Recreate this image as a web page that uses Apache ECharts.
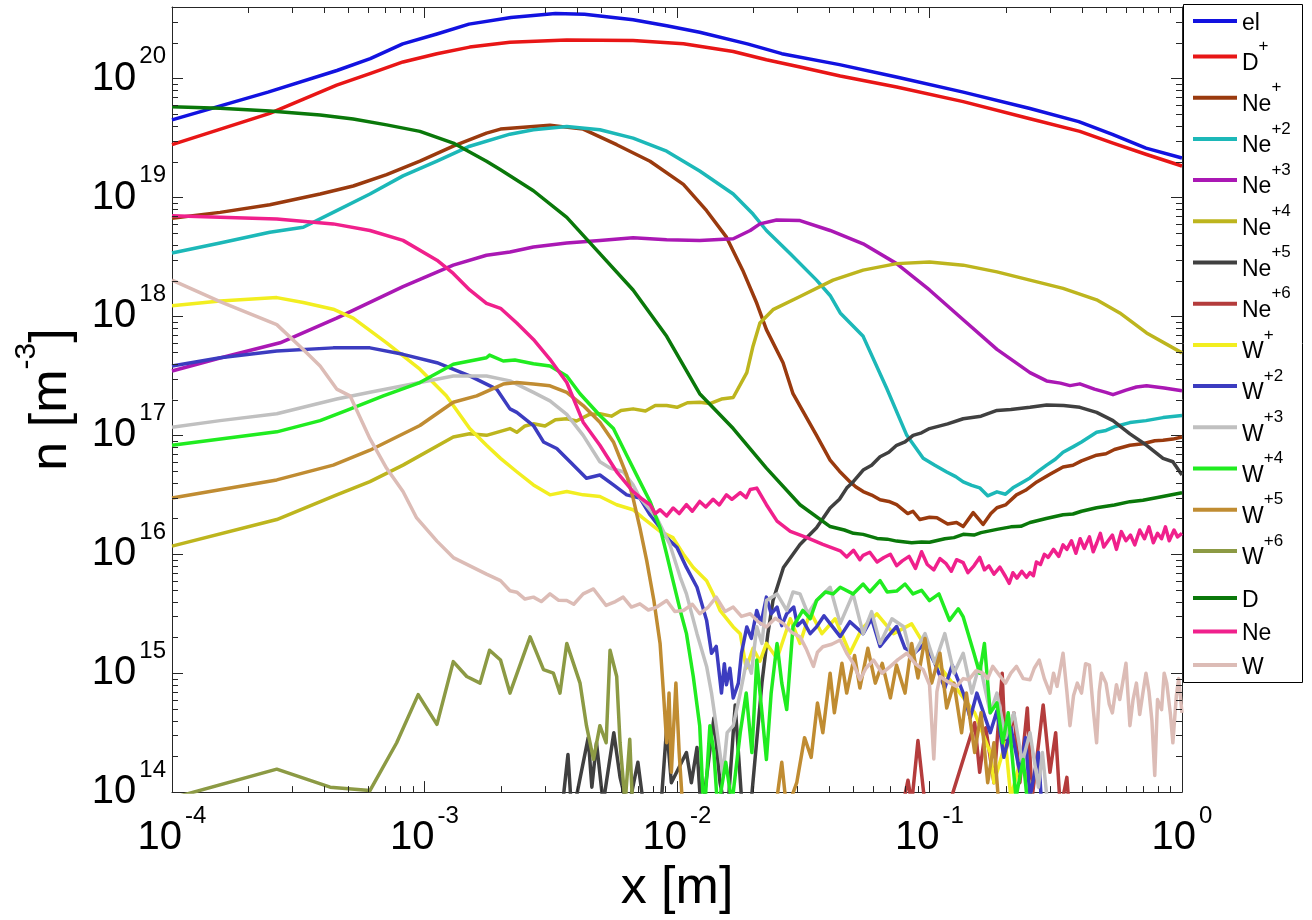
<!DOCTYPE html>
<html>
<head>
<meta charset="utf-8">
<script src="https://cdn.jsdelivr.net/npm/echarts@6/dist/echarts.min.js"></script>
<style>
html,body{margin:0;padding:0;background:#fff;}
#chart{width:1312px;height:920px;}
</style>
</head>
<body>
<div id="chart"></div>
<script>
// ---------------- data (x [m], n [m^-3]) ----------------
const seriesNames = ['el','D+','Ne+','Ne+2','Ne+3','Ne+4','Ne+5','Ne+6','W+','W+2','W+3','W+4','W+5','W+6','D','Ne','W'];
const seriesColors = ['#1212e0','#e81616','#9a3a0e','#1cb8b8','#aa18b4','#bdb51e','#404040','#b43c3c','#f2ee20','#3c3cc0','#c0c0c0','#20ec20','#c08c32','#8c9a44','#0a780a','#f0208c','#dcbcb6'];
const xTickExponents = [-4,-3,-2,-1,0];
const yTickExponents = [14,15,16,17,18,19,20];

const el = [[1e-4,4.5e19],[2.4e-4,7.7e19],[4.5e-4,1.17e20],[6.1e-4,1.47e20],[8.2e-4,1.96e20],[1.12e-3,2.37e20],[1.5e-3,2.87e20],[2.2e-3,3.27e20],[3.3e-3,3.53e20],[4.3e-3,3.48e20],[6.7e-3,3.12e20],[9.1e-3,2.78e20],[1.23e-2,2.45e20],[1.9e-2,1.96e20],[2.6e-2,1.62e20],[4.4e-2,1.31e20],[7.4e-2,1.03e20],[0.136,7.7e19],[0.25,5.6e19],[0.39,4.35e19],[0.53,3.4e19],[0.72,2.6e19],[1.0,2.15e19]];

const dPlus = [[1e-4,2.78e19],[2.44e-4,5.1e19],[4.49e-4,8.8e19],[6.08e-4,1.1e20],[8.22e-4,1.38e20],[1.12e-3,1.62e20],[1.51e-3,1.84e20],[2.18e-3,2.02e20],[3.66e-3,2.11e20],[6.7e-3,2.09e20],[1.06e-2,1.96e20],[1.67e-2,1.69e20],[2.26e-2,1.44e20],[3.07e-2,1.25e20],[4.43e-2,1.05e20],[7.41e-2,8.5e19],[0.136,6.4e19],[0.25,4.6e19],[0.394,3.6e19],[0.533,2.87e19],[0.724,2.3e19],[1.0,1.84e19]];

const nePlus = [[1e-4,6.68e18],[1.55e-4,7.5e18],[2.44e-4,8.69e18],[3.86e-4,1.07e19],[5.22e-4,1.25e19],[7.08e-4,1.56e19],[9.59e-4,2.02e19],[1.3e-3,2.7e19],[1.76e-3,3.48e19],[2.0e-3,3.76e19],[2.7e-3,3.96e19],[3.14e-3,4.06e19],[4.25e-3,3.76e19],[5.77e-3,2.78e19],[7.82e-3,2.02e19],[1.06e-2,1.29e19],[1.31e-2,7.75e18],[1.57e-2,4.64e18],[1.82e-2,2.45e18],[2.07e-2,1.29e18],[2.26e-2,7.75e17],[2.63e-2,4.08e17],[2.88e-2,2.24e17],[3.57e-2,1.0e17],[4.04e-2,6.19e16],[4.4e-2,5.0e16],[4.84e-2,4.08e16],[5.1e-2,3.7e16],[5.46e-2,3.37e16],[5.9e-2,3.15e16],[6.37e-2,2.87e16],[6.9e-2,2.78e16],[7.41e-2,2.61e16],[8.2e-2,2.2e16],[8.6e-2,2.3e16],[9.16e-2,1.96e16],[0.1,2.05e16],[0.107,2.03e16],[0.118,1.8e16],[0.128,1.85e16],[0.136,1.71e16],[0.149,2.24e16],[0.163,1.78e16],[0.175,2.2e16],[0.185,2.46e16],[0.2,2.6e16],[0.221,3.16e16],[0.24,3.45e16],[0.266,4.06e16],[0.3,4.7e16],[0.338,5.41e16],[0.37,5.6e16],[0.4,6.1e16],[0.459,6.81e16],[0.5,7.0e16],[0.54,7.6e16],[0.622,8.25e16],[0.7,8.5e16],[0.78,9.0e16],[0.841,9.1e16],[0.92,9.3e16],[1.0,9.68e16]];

const ne2 = [[1e-4,3.41e18],[1.55e-4,4.14e18],[2.44e-4,5.11e18],[3.31e-4,5.62e18],[4.35e-4,7.5e18],[6.08e-4,1.07e19],[8.22e-4,1.52e19],[1.12e-3,2.02e19],[1.51e-3,2.7e19],[2.18e-3,3.41e19],[2.7e-3,3.71e19],[3.66e-3,3.96e19],[4.95e-3,3.71e19],[6.7e-3,3.16e19],[9.1e-3,2.45e19],[1.23e-2,1.67e19],[1.67e-2,1.07e19],[2.0e-2,7.26e18],[2.26e-2,5.28e18],[2.81e-2,3.37e18],[3.57e-2,2.02e18],[4.04e-2,1.5e18],[4.43e-2,1.07e18],[5.46e-2,6.8e17],[6.76e-2,2.5e17],[8.13e-2,1.0e17],[9.44e-2,6.43e16],[0.105,5.6e16],[0.117,4.92e16],[0.127,4.5e16],[0.136,4.06e16],[0.147,3.8e16],[0.158,3.62e16],[0.17,3.1e16],[0.185,3.35e16],[0.2,3.2e16],[0.214,3.62e16],[0.232,4.0e16],[0.25,4.38e16],[0.27,5.0e16],[0.291,5.62e16],[0.315,6.3e16],[0.338,7.21e16],[0.37,8.0e16],[0.4,8.8e16],[0.459,1.06e17],[0.5,1.1e17],[0.54,1.18e17],[0.622,1.28e17],[0.72,1.33e17],[0.841,1.41e17],[1.0,1.47e17]];

const ne3 = [[1e-4,3.48e17],[1.55e-4,4.47e17],[2.68e-4,6.0e17],[4.49e-4,9.68e17],[8.22e-4,1.78e18],[1.3e-3,2.7e18],[1.76e-3,3.27e18],[2.18e-3,3.48e18],[2.7e-3,3.83e18],[3.66e-3,4.14e18],[4.95e-3,4.36e18],[6.7e-3,4.58e18],[9.1e-3,4.42e18],[1.23e-2,4.36e18],[1.67e-2,4.5e18],[1.95e-2,5.28e18],[2.13e-2,6.0e18],[2.48e-2,6.47e18],[3.07e-2,6.4e18],[4.04e-2,5.28e18],[5.46e-2,4.08e18],[7.41e-2,2.78e18],[0.1,1.67e18],[0.136,9.38e17],[0.185,5.28e17],[0.25,3.37e17],[0.291,2.87e17],[0.33,2.75e17],[0.36,2.62e17],[0.394,2.71e17],[0.45,2.45e17],[0.5,2.3e17],[0.533,2.2e17],[0.6,2.4e17],[0.66,2.55e17],[0.724,2.61e17],[0.85,2.5e17],[1.0,2.37e17]];

const ne4 = [[1e-4,1.17e16],[2.6e-4,1.96e16],[4.49e-4,3.16e16],[6.08e-4,4.08e16],[8.22e-4,5.62e16],[1.3e-3,9.68e16],[1.51e-3,1.03e17],[1.76e-3,1.0e17],[2.18e-3,1.14e17],[2.32e-3,1.06e17],[2.5e-3,1.2e17],[2.7e-3,1.25e17],[3.0e-3,1.2e17],[3.3e-3,1.35e17],[3.66e-3,1.38e17],[4.0e-3,1.32e17],[4.5e-3,1.5e17],[4.95e-3,1.52e17],[5.5e-3,1.45e17],[6.0e-3,1.62e17],[6.7e-3,1.67e17],[7.5e-3,1.6e17],[8.2e-3,1.78e17],[9.1e-3,1.78e17],[1.0e-2,1.72e17],[1.1e-2,1.88e17],[1.23e-2,1.9e17],[1.35e-2,1.85e17],[1.5e-2,2.02e17],[1.67e-2,2.08e17],[1.89e-2,3.37e17],[2.0e-2,5.62e17],[2.13e-2,8.8e17],[2.4e-2,1.14e18],[3.07e-2,1.47e18],[4.15e-2,2.02e18],[5.46e-2,2.45e18],[7.41e-2,2.78e18],[0.1,2.87e18],[0.136,2.7e18],[0.185,2.37e18],[0.25,2.02e18],[0.338,1.72e18],[0.459,1.38e18],[0.567,1.07e18],[0.724,7.26e17],[1.0,4.94e17]];

const ne5 = [[3.44e-3,5e13],[3.7e-3,2.07e14],[3.84e-3,6e13],[4.45e-3,2.87e14],[4.6e-3,1.1e14],[4.8e-3,2.6e14],[5.1e-3,8e13],[5.62e-3,3.16e14],[5.95e-3,1.33e14],[6.4e-3,7e13],[7.0e-3,1.78e14],[7.3e-3,9e13],[8.57e-3,6e13],[9.1e-3,3.48e14],[9.5e-3,1.2e14],[1.09e-2,2.15e14],[1.14e-2,1.2e14],[1.2e-2,2.37e14],[1.25e-2,6e13],[1.4e-2,4.2e14],[1.48e-2,1.2e14],[1.58e-2,6e13],[1.7e-2,5.4e14],[1.8e-2,9e13],[1.94e-2,6e13],[2.17e-2,8.3e14],[2.29e-2,2.15e15],[2.4e-2,4.08e15],[2.64e-2,7.75e15],[3.07e-2,1.21e16],[3.57e-2,1.67e16],[4.04e-2,2.45e16],[4.4e-2,2.9e16],[4.7e-2,3.6e16],[5.0e-2,4.1e16],[5.46e-2,5.11e16],[5.9e-2,5.6e16],[6.37e-2,6.6e16],[6.9e-2,7.2e16],[7.41e-2,8.25e16],[8.0e-2,8.8e16],[8.61e-2,1.0e17],[0.093,1.05e17],[0.1,1.14e17],[0.118,1.25e17],[0.136,1.38e17],[0.16,1.45e17],[0.185,1.62e17],[0.21,1.65e17],[0.25,1.72e17],[0.291,1.8e17],[0.34,1.78e17],[0.394,1.72e17],[0.459,1.56e17],[0.533,1.33e17],[0.622,1.03e17],[0.724,8.25e16],[0.841,6.4e16],[0.92,6.0e16],[1.0,4.64e16]];

const ne6 = [[7.64e-2,6e13],[8.22e-2,1.26e14],[8.5e-2,8e13],[9.0e-2,2.71e14],[9.5e-2,9.5e13],[0.102,7e13],[0.115,6e13],[0.151,3.83e14],[0.158,1.47e14],[0.167,3.48e14],[0.18,1.2e14],[0.194,1.0e15],[0.2,2.15e14],[0.216,4.64e14],[0.228,1.2e14],[0.244,5.1e14],[0.255,9e13],[0.282,5.4e14],[0.3,1.47e14],[0.316,3.16e14],[0.33,7e13],[0.35,1.33e14],[0.36,6e13]];

const wPlus = [[1e-4,1.23e18],[1.55e-4,1.35e18],[2.6e-4,1.44e18],[3.31e-4,1.31e18],[4.35e-4,1.15e18],[5.22e-4,9.68e17],[7.08e-4,6.0e17],[9.59e-4,3.6e17],[1.22e-3,2.15e17],[1.51e-3,1.14e17],[1.76e-3,8.25e16],[2.0e-3,6.4e16],[2.32e-3,4.94e16],[2.7e-3,3.83e16],[3.14e-3,3.16e16],[3.66e-3,3.37e16],[4.25e-3,3.16e16],[4.95e-3,3.06e16],[5.77e-3,2.61e16],[6.7e-3,2.37e16],[7.32e-3,2.02e16],[8.57e-3,1.56e16],[9.64e-3,1.38e16],[1.06e-2,1.0e16],[1.16e-2,7.75e15],[1.31e-2,6.0e15],[1.39e-2,4.64e15],[1.48e-2,3.37e15],[1.67e-2,2.45e15],[1.78e-2,2.15e15],[1.88e-2,1.1e15],[2.0e-2,1.62e15],[2.13e-2,1.26e15],[2.26e-2,1.78e15],[2.49e-2,1.33e15],[2.81e-2,2.87e15],[3.07e-2,1.78e15],[3.37e-2,3.29e15],[3.75e-2,2.15e15],[4.23e-2,2.87e15],[4.84e-2,1.47e15],[5.4e-2,2.37e15],[6.19e-2,3.16e15],[7.2e-2,2.15e15],[8.5e-2,2.6e15],[0.1,1.47e15],[0.115,1.0e15],[0.132,6.8e14],[0.151,4.64e14],[0.174,2.15e14],[0.18,1.2e14],[0.2,2.6e14],[0.21,9e13],[0.228,1.78e14],[0.25,1.2e14],[0.26,5e13]];

const w2 = [[1e-4,3.83e17],[1.55e-4,4.49e17],[2.6e-4,5.11e17],[4.35e-4,5.44e17],[6.08e-4,5.44e17],[8.22e-4,4.8e17],[1.12e-3,4.08e17],[1.51e-3,3.16e17],[1.93e-3,2.45e17],[2.18e-3,1.67e17],[2.32e-3,1.56e17],[2.7e-3,1.21e17],[2.96e-3,8.8e16],[3.34e-3,7.75e16],[3.77e-3,6.0e16],[4.38e-3,4.36e16],[4.95e-3,4.64e16],[5.6e-3,3.83e16],[6.32e-3,3.16e16],[7.13e-3,2.97e16],[7.82e-3,2.15e16],[8.57e-3,1.67e16],[9.1e-3,1.38e16],[1.0e-2,1.14e16],[1.09e-2,7.75e15],[1.2e-2,5.28e15],[1.31e-2,2.78e15],[1.37e-2,1.47e15],[1.43e-2,1.68e15],[1.5e-2,6.8e14],[1.54e-2,1.2e15],[1.57e-2,8.0e14],[1.62e-2,1.1e15],[1.67e-2,6.19e14],[1.75e-2,8.25e14],[1.8e-2,1.47e15],[1.89e-2,2.45e15],[1.97e-2,1.96e15],[2.07e-2,3.37e15],[2.15e-2,2.61e15],[2.26e-2,4.36e15],[2.36e-2,3.16e15],[2.49e-2,3.6e15],[2.6e-2,2.51e15],[2.72e-2,3.16e15],[2.9e-2,3.6e15],[3.0e-2,2.51e15],[3.15e-2,2.78e15],[3.37e-2,2.15e15],[3.57e-2,2.45e15],[3.82e-2,3.04e15],[4.04e-2,2.61e15],[4.43e-2,2.03e15],[4.84e-2,2.71e15],[5.46e-2,2.15e15],[5.9e-2,2.87e15],[6.37e-2,1.68e15],[7.0e-2,2.15e15],[7.41e-2,2.47e15],[8.0e-2,1.62e15],[8.7e-2,1.47e15],[9.6e-2,1.78e15],[0.105,1.21e15],[0.115,7.5e14],[0.123,1.17e15],[0.136,6.8e14],[0.145,4.2e14],[0.154,6.8e14],[0.174,3.16e14],[0.185,4.82e14],[0.197,1.96e14],[0.21,3.48e14],[0.228,1.47e14],[0.24,2.87e14],[0.25,9e13],[0.27,2.15e14],[0.28,6e13]];

const w3 = [[1e-4,1.17e17],[1.55e-4,1.33e17],[2.6e-4,1.52e17],[4.49e-4,2.02e17],[6.08e-4,2.3e17],[9.59e-4,2.78e17],[1.3e-3,3.16e17],[1.76e-3,3.16e17],[2.18e-3,2.87e17],[2.7e-3,2.3e17],[3.14e-3,1.95e17],[3.66e-3,1.5e17],[4.25e-3,1.0e17],[4.95e-3,6.0e16],[5.43e-3,5.31e16],[6.12e-3,4.94e16],[6.7e-3,3.83e16],[7.13e-3,2.99e16],[8.32e-3,2.02e16],[9.37e-3,1.21e16],[1.03e-2,6.4e15],[1.09e-2,4.64e15],[1.2e-2,2.15e15],[1.31e-2,1.14e15],[1.37e-2,6.8e14],[1.43e-2,3.62e14],[1.52e-2,1.39e14],[1.58e-2,3.16e14],[1.67e-2,3.62e14],[1.78e-2,6.8e14],[1.89e-2,1.29e15],[1.97e-2,1.0e15],[2.07e-2,2.46e15],[2.17e-2,1.78e15],[2.26e-2,4.08e15],[2.49e-2,4.64e15],[2.72e-2,3.37e15],[2.88e-2,4.82e15],[3.07e-2,4.64e15],[3.3e-2,3.16e15],[3.57e-2,4.08e15],[4.04e-2,5.28e15],[4.43e-2,2.61e15],[4.98e-2,4.64e15],[5.46e-2,2.15e15],[5.9e-2,3.29e15],[6.37e-2,1.78e15],[7.1e-2,2.87e15],[7.9e-2,2.46e15],[8.5e-2,1.33e15],[9.6e-2,2.15e15],[0.105,1.21e15],[0.115,2.15e15],[0.125,1.0e15],[0.136,1.47e15],[0.147,6.8e14],[0.158,1.21e15],[0.174,4.64e14],[0.185,6.8e14],[0.2,2.87e14],[0.216,4.64e14],[0.233,1.78e14],[0.25,3.16e14],[0.27,1.1e14],[0.28,2.15e14],[0.3,5e13]];

const w4 = [[1e-4,8.25e16],[2.6e-4,1.07e17],[3.86e-4,1.33e17],[4.92e-4,1.62e17],[6.87e-4,2.15e17],[9.59e-4,2.78e17],[1.3e-3,3.96e17],[1.76e-3,4.49e17],[1.81e-3,4.73e17],[2.05e-3,4.22e17],[2.28e-3,4.3e17],[2.7e-3,4.0e17],[3.14e-3,3.83e17],[3.66e-3,3.16e17],[4.13e-3,2.24e17],[4.95e-3,1.47e17],[5.6e-3,1.14e17],[6.32e-3,6.81e16],[7.13e-3,4.08e16],[7.82e-3,2.78e16],[8.57e-3,1.67e16],[9.1e-3,1.0e16],[9.64e-3,6.0e15],[1.03e-2,3.37e15],[1.09e-2,2.15e15],[1.16e-2,9.38e14],[1.23e-2,3.62e14],[1.28e-2,6e13],[1.35e-2,3.62e14],[1.4e-2,2.15e14],[1.45e-2,7e13],[1.56e-2,1.78e14],[1.65e-2,8e13],[1.78e-2,3.16e14],[1.88e-2,6.8e14],[1.98e-2,2.15e14],[2.07e-2,1.29e15],[2.17e-2,4.64e14],[2.26e-2,1.88e14],[2.36e-2,6.8e14],[2.49e-2,1.78e15],[2.6e-2,8.25e14],[2.72e-2,4.94e14],[2.88e-2,2.46e15],[3.15e-2,3.37e15],[3.37e-2,2.87e15],[3.57e-2,4.08e15],[3.87e-2,4.82e15],[4.15e-2,4.64e15],[4.43e-2,5.28e15],[4.98e-2,4.64e15],[5.46e-2,5.62e15],[5.8e-2,4.82e15],[6.37e-2,6.0e15],[6.8e-2,4.82e15],[7.41e-2,4.9e15],[8.0e-2,5.62e15],[8.6e-2,4.64e15],[9.3e-2,4.98e15],[0.1,4.08e15],[0.109,4.64e15],[0.12,2.78e15],[0.13,3.48e15],[0.136,2.97e15],[0.15,1.47e15],[0.158,1.0e15],[0.165,1.78e15],[0.174,4.64e14],[0.185,5.62e14],[0.195,2.6e14],[0.205,4.64e14],[0.22,9e13],[0.235,1.88e14],[0.25,5e13]];

const w5 = [[1e-4,2.97e16],[2.6e-4,4.22e16],[4.35e-4,5.62e16],[6.08e-4,7.5e16],[9.59e-4,1.21e17],[1.3e-3,1.9e17],[1.61e-3,2.15e17],[2.05e-3,2.7e17],[2.32e-3,2.78e17],[2.7e-3,2.7e17],[3.14e-3,2.61e17],[3.66e-3,2.3e17],[4.25e-3,1.78e17],[4.95e-3,1.29e17],[5.6e-3,8.8e16],[6.32e-3,4.64e16],[6.7e-3,2.97e16],[7.13e-3,1.67e16],[7.59e-3,8.8e15],[8.1e-3,4.08e15],[8.57e-3,1.78e15],[8.84e-3,6.8e14],[9.1e-3,2.6e14],[9.3e-3,6.8e14],[9.5e-3,1.47e14],[9.9e-3,8.25e14],[1.02e-2,2.15e14],[1.06e-2,6e13],[2.49e-2,9e13],[2.6e-2,1.78e14],[2.72e-2,7e13],[2.98e-2,1.2e14],[3.2e-2,2.87e14],[3.4e-2,1.96e14],[3.6e-2,5.62e14],[3.78e-2,3.16e14],[4.04e-2,1.0e15],[4.2e-2,4.64e14],[4.5e-2,1.21e15],[4.7e-2,6.8e14],[5.05e-2,1.41e15],[5.3e-2,7.5e14],[5.7e-2,1.62e15],[6.1e-2,8.25e14],[6.5e-2,1.21e15],[7.0e-2,6.2e14],[7.4e-2,1.17e15],[8.0e-2,6.8e14],[8.5e-2,1.78e15],[9.0e-2,9.1e14],[9.6e-2,1.96e15],[0.102,8.25e14],[0.11,1.47e15],[0.117,5.1e14],[0.125,8.25e14],[0.134,3.16e14],[0.14,6.8e14],[0.151,2.15e14],[0.16,4.64e14],[0.17,1.2e14],[0.18,2.6e14],[0.19,6e13]];

const w6 = [[1e-4,8.9e13],[2.6e-4,1.56e14],[4.23e-4,1.1e14],[6.08e-4,1.03e14],[7.76e-4,2.6e14],[9.44e-4,6.6e14],[1.12e-3,3.71e14],[1.3e-3,1.25e15],[1.47e-3,9.38e14],[1.66e-3,8.25e14],[1.81e-3,1.56e15],[2.0e-3,1.29e15],[2.18e-3,6.8e14],[2.62e-3,2.02e15],[2.96e-3,1.07e15],[3.24e-3,1.0e15],[3.44e-3,6.8e14],[3.66e-3,1.78e15],[4.13e-3,8.25e14],[4.38e-3,3.62e14],[4.67e-3,1.88e14],[4.95e-3,3.62e14],[5.24e-3,2.6e14],[5.43e-3,1.56e15],[5.77e-3,9.38e14],[5.95e-3,2.6e14],[6.23e-3,8e13],[6.5e-3,2.78e14],[6.7e-3,6e13]];

const dNeutral = [[1e-4,5.81e19],[1.55e-4,5.62e19],[2.44e-4,5.34e19],[3.86e-4,4.95e19],[5.22e-4,4.58e19],[7.08e-4,4.08e19],[9.59e-4,3.6e19],[1.3e-3,2.87e19],[1.76e-3,2.02e19],[2.0e-3,1.71e19],[2.7e-3,1.14e19],[3.66e-3,6.8e18],[4.95e-3,3.37e18],[6.7e-3,1.67e18],[9.1e-3,6.8e17],[1.23e-2,2.24e17],[1.67e-2,1.14e17],[2.26e-2,5.3e16],[3.07e-2,2.61e16],[4.04e-2,1.71e16],[4.6e-2,1.6e16],[5.0e-2,1.5e16],[5.46e-2,1.47e16],[6.2e-2,1.36e16],[6.8e-2,1.34e16],[7.41e-2,1.29e16],[8.5e-2,1.25e16],[0.093,1.27e16],[0.1,1.26e16],[0.115,1.35e16],[0.125,1.38e16],[0.136,1.47e16],[0.15,1.45e16],[0.16,1.52e16],[0.185,1.62e16],[0.21,1.7e16],[0.23,1.72e16],[0.25,1.85e16],[0.29,2.0e16],[0.338,2.15e16],[0.37,2.18e16],[0.4,2.3e16],[0.459,2.46e16],[0.54,2.6e16],[0.622,2.77e16],[0.7,2.85e16],[0.8,3.0e16],[1.0,3.29e16]];

const neNeutral = [[1e-4,7.04e18],[1.55e-4,6.81e18],[2.6e-4,6.6e18],[4.35e-4,6.0e18],[6.08e-4,5.28e18],[8.22e-4,4.36e18],[1.12e-3,2.97e18],[1.3e-3,2.3e18],[1.51e-3,1.67e18],[1.76e-3,1.29e18],[2.0e-3,1.17e18],[2.32e-3,8.8e17],[2.7e-3,6.4e17],[3.14e-3,4.36e17],[3.66e-3,2.78e17],[4.25e-3,1.29e17],[4.95e-3,8.25e16],[5.77e-3,4.94e16],[6.7e-3,3.37e16],[7.3e-3,2.9e16],[7.82e-3,2.61e16],[8.2e-3,2.2e16],[8.57e-3,2.37e16],[9.1e-3,2.1e16],[9.66e-3,2.45e16],[1.02e-2,2.2e16],[1.09e-2,2.61e16],[1.15e-2,2.3e16],[1.23e-2,2.78e16],[1.3e-2,2.5e16],[1.39e-2,2.9e16],[1.47e-2,2.6e16],[1.57e-2,3.16e16],[1.65e-2,2.9e16],[1.78e-2,3.3e16],[1.88e-2,3.0e16],[1.95e-2,3.5e16],[2.07e-2,3.6e16],[2.26e-2,2.61e16],[2.49e-2,1.9e16],[2.81e-2,1.56e16],[3.27e-2,1.38e16],[3.78e-2,1.21e16],[4.43e-2,1.07e16],[4.7e-2,9.5e15],[5.0e-2,1.08e16],[5.3e-2,9.0e15],[5.46e-2,9.8e15],[5.8e-2,1.04e16],[6.2e-2,8.6e15],[6.6e-2,9.4e15],[7.0e-2,1.0e16],[7.41e-2,8.0e15],[7.8e-2,8.8e15],[8.3e-2,9.6e15],[8.8e-2,7.6e15],[9.3e-2,1.05e16],[9.8e-2,8.2e15],[0.104,7.4e15],[0.11,9.2e15],[0.116,8.4e15],[0.122,7.2e15],[0.128,9.0e15],[0.136,8.5e15],[0.142,7.0e15],[0.15,8.0e15],[0.158,9.4e15],[0.165,7.4e15],[0.172,8.0e15],[0.18,6.8e15],[0.19,7.8e15],[0.2,6.5e15],[0.207,5.7e15],[0.214,7.0e15],[0.222,6.3e15],[0.232,7.2e15],[0.242,6.4e15],[0.25,7.0e15],[0.258,6.6e15],[0.265,8.6e15],[0.275,8.2e15],[0.285,1.0e16],[0.295,9.4e15],[0.31,1.1e16],[0.325,9.6e15],[0.338,1.2e16],[0.35,1.1e16],[0.365,1.3e16],[0.38,1.02e16],[0.395,1.35e16],[0.41,1.12e16],[0.43,1.4e16],[0.445,1.05e16],[0.46,1.25e16],[0.475,1.5e16],[0.49,1.15e16],[0.51,1.3e16],[0.53,1.45e16],[0.55,1.1e16],[0.575,1.55e16],[0.6,1.3e16],[0.625,1.45e16],[0.65,1.2e16],[0.68,1.6e16],[0.71,1.35e16],[0.74,1.7e16],[0.77,1.25e16],[0.8,1.5e16],[0.83,1.35e16],[0.86,1.7e16],[0.89,1.3e16],[0.93,1.6e16],[0.96,1.4e16],[1.0,1.5e16]];

const wNeutral = [[1e-4,2.02e18],[1.55e-4,1.33e18],[2.6e-4,8.53e17],[3.31e-4,5.28e17],[3.86e-4,3.83e17],[4.49e-4,2.45e17],[5.07e-4,2.15e17],[6.08e-4,9.38e16],[7.08e-4,5.28e16],[8.22e-4,3.37e16],[9.31e-4,2.02e16],[1.12e-3,1.29e16],[1.3e-3,9.38e15],[1.76e-3,6.81e15],[2.0e-3,6.0e15],[2.18e-3,4.94e15],[2.32e-3,4.8e15],[2.5e-3,4.2e15],[2.7e-3,4.36e15],[2.9e-3,4.0e15],[3.14e-3,4.64e15],[3.4e-3,4.1e15],[3.66e-3,4.08e15],[3.9e-3,3.8e15],[4.25e-3,4.64e15],[4.67e-3,5.11e15],[5.24e-3,3.71e15],[5.7e-3,4.0e15],[6.12e-3,4.36e15],[6.6e-3,3.6e15],[7.13e-3,3.83e15],[7.7e-3,3.4e15],[8.32e-3,3.6e15],[9.1e-3,4.08e15],[9.8e-3,3.3e15],[1.06e-2,3.37e15],[1.15e-2,3.8e15],[1.23e-2,3.16e15],[1.33e-2,3.6e15],[1.43e-2,4.36e15],[1.55e-2,3.3e15],[1.67e-2,3.6e15],[1.8e-2,3.0e15],[1.95e-2,3.16e15],[2.1e-2,2.7e15],[2.26e-2,2.45e15],[2.45e-2,2.9e15],[2.64e-2,2.61e15],[2.85e-2,2.2e15],[3.07e-2,2.02e15],[3.25e-2,1.6e15],[3.47e-2,1.14e15],[3.6e-2,1.5e15],[3.78e-2,1.67e15],[4.1e-2,1.75e15],[4.43e-2,1.9e15],[4.7e-2,1.47e15],[5.0e-2,1.2e15],[5.31e-2,8.8e14],[5.6e-2,1.1e15],[6.0e-2,1.29e15],[6.5e-2,1.0e15],[7.0e-2,1.14e15],[7.5e-2,1.3e15],[8.13e-2,1.47e15],[8.8e-2,1.2e15],[9.44e-2,1.07e15],[0.1,8.0e14],[0.104,1.9e14],[0.107,7.0e14],[0.11,9.38e14],[0.12,8.3e14],[0.128,7.75e14],[0.136,9.0e14],[0.143,8.8e14],[0.153,1.05e15],[0.163,1.0e15],[0.17,9.0e14],[0.178,1.14e15],[0.19,9.5e14],[0.2,8.25e14],[0.21,1.0e15],[0.221,1.14e15],[0.235,9.0e14],[0.25,8.8e14],[0.26,1.1e15],[0.272,1.29e15],[0.285,9.0e14],[0.3,6.8e14],[0.31,1.0e15],[0.32,7.75e14],[0.338,1.47e15],[0.35,7.0e14],[0.36,3.62e14],[0.372,6.5e14],[0.385,8.25e14],[0.4,6.8e14],[0.415,1.2e15],[0.43,1.17e15],[0.445,5.0e14],[0.459,2.6e14],[0.47,7.0e14],[0.48,1.0e15],[0.5,8.25e14],[0.515,5.5e14],[0.53,4.64e14],[0.55,8.0e14],[0.567,6.0e14],[0.6,1.21e15],[0.622,3.62e14],[0.64,6.0e14],[0.66,8.25e14],[0.68,4.5e14],[0.7,6.8e14],[0.72,1.0e15],[0.74,7.0e14],[0.76,4.0e14],[0.78,1.38e14],[0.8,6.0e14],[0.83,4.94e14],[0.85,1.0e15],[0.87,8.25e14],[0.9,4.5e14],[0.92,2.6e14],[0.95,6.5e14],[0.97,9.0e14],[1.0,4.64e14]];

const seriesValues = [el, dPlus, nePlus, ne2, ne3, ne4, ne5, ne6, wPlus, w2, w3, w4, w5, w6, dNeutral, neNeutral, wNeutral];

// ---------------- axis / layout settings ----------------
const X_MIN = 1e-4, X_MAX = 1;
const Y_MIN = 1e14, Y_MAX = 4e20;
const FONT = "'Liberation Sans', Arial, Helvetica, sans-serif";
const AXIS_COLOR = '#262626';

function decadeLabel(v) {
  const e = Math.log10(v);
  const r = Math.round(e);
  if (Math.abs(e - r) > 1e-6) return '';
  return '{b|10}{s|' + r + '}';
}
// minor tick positions (2..9 per decade): axis decoration only
const minorX = [];
for (let e = xTickExponents[0]; e < xTickExponents[xTickExponents.length - 1]; e++) {
  for (let m = 2; m <= 9; m++) minorX.push(m * Math.pow(10, e));
}
const minorY = [];
for (let e = yTickExponents[0]; e <= yTickExponents[yTickExponents.length - 1]; e++) {
  for (let m = 2; m <= 9; m++) { const v = m * Math.pow(10, e); if (v < Y_MAX) minorY.push(v); }
}

const labelRich = {
  b: { fontSize: 40, fontFamily: FONT, color: '#000', lineHeight: 68 },
  s: { fontSize: 24, fontFamily: FONT, color: '#000', verticalAlign: 'top', padding: [0, 0, 0, 3] }
};

const chart = echarts.init(document.getElementById('chart'), null, { renderer: 'canvas' });

const lineSeries = seriesNames.map((name, i) => ({
  name: name,
  type: 'line',
  data: seriesValues[i],
  xAxisIndex: 0,
  yAxisIndex: 0,
  showSymbol: false,
  symbol: 'none',
  clip: true,
  lineStyle: { color: seriesColors[i], width: 3.5, join: 'round' },
  itemStyle: { color: seriesColors[i] },
  emphasis: { disabled: true },
  z: 2
}));

const tickStyle = { stroke: AXIS_COLOR, lineWidth: 1 };
const minorXSeries = {
  type: 'custom', silent: true, xAxisIndex: 0, yAxisIndex: 0,
  data: minorX.map(v => [v, Y_MIN]), encode: { x: 0, y: 1 }, z: 5,
  renderItem: function (params, api) {
    const v = api.value(0);
    const pb = api.coord([v, Y_MIN]);
    const pt = api.coord([v, Y_MAX]);
    const x = Math.round(pb[0]) + 0.5;
    return { type: 'group', children: [
      { type: 'line', shape: { x1: x, y1: pb[1], x2: x, y2: pb[1] - 6 }, style: tickStyle },
      { type: 'line', shape: { x1: x, y1: pt[1], x2: x, y2: pt[1] + 6 }, style: tickStyle }
    ]};
  }
};
const minorYSeries = {
  type: 'custom', silent: true, xAxisIndex: 0, yAxisIndex: 0,
  data: minorY.map(v => [X_MIN, v]), encode: { x: 0, y: 1 }, z: 5,
  renderItem: function (params, api) {
    const v = api.value(1);
    const pl = api.coord([X_MIN, v]);
    const pr = api.coord([X_MAX, v]);
    const y = Math.round(pl[1]) + 0.5;
    return { type: 'group', children: [
      { type: 'line', shape: { x1: pl[0], y1: y, x2: pl[0] + 6, y2: y }, style: tickStyle },
      { type: 'line', shape: { x1: pr[0], y1: y, x2: pr[0] - 6, y2: y }, style: tickStyle }
    ]};
  }
};

// legend: three stacked groups inside one framed box
const legendRich = {
  p: { fontSize: 23, fontFamily: FONT, color: '#000', lineHeight: 28, verticalAlign: 'bottom' },
  b: { fontSize: 23, fontFamily: FONT, color: '#000', lineHeight: 37, verticalAlign: 'bottom' },
  s: { fontSize: 17, fontFamily: FONT, color: '#000', verticalAlign: 'top' }
};
function legendFormatter(name) {
  const i = name.indexOf('+');
  if (i < 0) return '{p|' + name + '}';
  return '{b|' + name.slice(0, i) + '}{s|' + name.slice(i) + '}';
}
function legendGroup(names, top, gap) {
  return {
    data: names, orient: 'vertical', left: 1193, top: top, padding: 0,
    itemGap: gap, itemWidth: 44, itemHeight: 4, icon: 'rect', selectedMode: false,
    formatter: legendFormatter, z: 10,
    textStyle: { color: '#000', fontFamily: FONT, rich: legendRich }
  };
}
const legendA = ['el'];
const legendB = seriesNames.filter(n => n.indexOf('+') >= 0);
const legendC = seriesNames.filter(n => n.indexOf('+') < 0 && n !== 'el');

const option = {
  backgroundColor: '#ffffff',
  animation: false,
  textStyle: { fontFamily: FONT },
  grid: { left: 172, top: 7, width: 1010, height: 793, containLabel: false, show: false },
  graphic: [{
    type: 'rect', z: 1, silent: true,
    shape: { x: 1183.5, y: 4.5, width: 119, height: 678 },
    style: { fill: '#ffffff', stroke: '#000000', lineWidth: 1 }
  }],
  legend: [
    legendGroup(legendA, 12, 5),
    legendGroup(legendB, 38, 4.2),
    legendGroup(legendC, 589, 10.5)
  ],
  xAxis: [
    {
      type: 'log', logBase: 10, min: X_MIN, max: X_MAX, position: 'bottom',
      name: 'x [m]', nameLocation: 'middle', nameGap: 62,
      nameTextStyle: { fontSize: 52, fontFamily: FONT, color: '#000' },
      axisLine: { show: true, lineStyle: { color: AXIS_COLOR, width: 1 } },
      axisTick: { show: true, inside: true, length: 11, lineStyle: { color: AXIS_COLOR, width: 1 } },
      splitLine: { show: false },
      axisLabel: { show: true, margin: 12, formatter: decadeLabel, rich: labelRich, color: '#000', hideOverlap: false }
    },
    {
      type: 'log', logBase: 10, min: X_MIN, max: X_MAX, position: 'top',
      axisLine: { show: true, lineStyle: { color: AXIS_COLOR, width: 1 } },
      axisTick: { show: true, inside: true, length: 11, lineStyle: { color: AXIS_COLOR, width: 1 } },
      splitLine: { show: false },
      axisLabel: { show: false }
    }
  ],
  yAxis: [
    {
      type: 'log', logBase: 10, min: Y_MIN, max: Y_MAX, position: 'left',
      name: '{t|n [m}{s|-3}{t|]}', nameLocation: 'middle', nameGap: 80, nameRotate: 90,
      nameTextStyle: {
        color: '#000', fontFamily: FONT,
        rich: {
          t: { fontSize: 52, fontFamily: FONT, color: '#000', lineHeight: 80 },
          s: { fontSize: 30, fontFamily: FONT, color: '#000', verticalAlign: 'top' }
        }
      },
      axisLine: { show: true, lineStyle: { color: AXIS_COLOR, width: 1 } },
      axisTick: { show: true, inside: true, length: 11, lineStyle: { color: AXIS_COLOR, width: 1 } },
      splitLine: { show: false },
      axisLabel: { show: true, margin: 6, formatter: decadeLabel, rich: labelRich, color: '#000', showMaxLabel: false, hideOverlap: false }
    },
    {
      type: 'log', logBase: 10, min: Y_MIN, max: Y_MAX, position: 'right',
      axisLine: { show: true, lineStyle: { color: AXIS_COLOR, width: 1 } },
      axisTick: { show: true, inside: true, length: 11, lineStyle: { color: AXIS_COLOR, width: 1 } },
      splitLine: { show: false },
      axisLabel: { show: false }
    }
  ],
  series: lineSeries.concat([minorXSeries, minorYSeries])
};

chart.setOption(option);
</script>
</body>
</html>
